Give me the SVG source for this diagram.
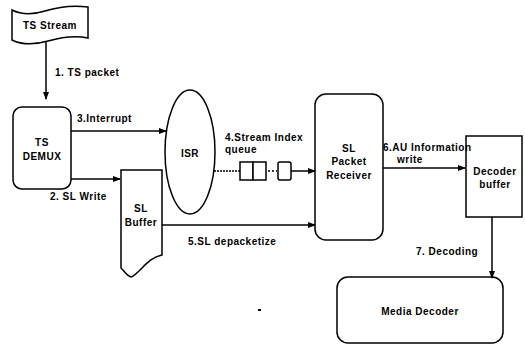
<svg xmlns="http://www.w3.org/2000/svg" width="525" height="345" viewBox="0 0 525 345">
<style>
.s{fill:none;stroke:#000;stroke-width:1.5}
.n{fill:#fff;stroke:#000;stroke-width:1.5}
.t{font-family:"Liberation Sans",Arial,sans-serif;font-size:10px;font-weight:bold;letter-spacing:0.5px;fill:#000}
.c{text-anchor:middle}
</style>
<defs>
<marker id="ah" viewBox="0 0 8 8" refX="7" refY="4" markerWidth="8" markerHeight="8" markerUnits="userSpaceOnUse" orient="auto">
<path d="M0,1 L8,4 L0,7 Z" fill="#000"/>
</marker>
</defs>
<rect width="525" height="345" fill="#fff"/>
<g id="ts-stream">
<path class="n" d="M12,10 C22,15 32,15 45,11 C58,7 72,5 88,7 L88,38 C74,35 62,37 48,41 C34,45 22,45 12,40 Z"/>
<text class="t c" x="50" y="29">TS Stream</text>
</g>
<g id="ts-demux">
<rect class="n" x="13" y="107" width="58" height="82" rx="9"/>
<text class="t c" x="42" y="146">TS</text>
<text class="t c" x="42" y="160">DEMUX</text>
</g>
<g id="isr">
<ellipse class="n" cx="190" cy="152" rx="25" ry="62"/>
<text class="t c" x="190" y="157">ISR</text>
</g>
<g id="queue">
<rect class="n" x="240" y="162" width="13" height="18"/>
<rect class="n" x="253" y="162" width="13" height="18"/>
<rect class="n" x="278" y="162" width="13" height="18" rx="2"/>
</g>
<g id="sl-buffer">
<path class="n" d="M121,170 L162,170 L162,255 C152,257 146,264 140,270 C136,274 133,277 131,277 C127,276 124,271 121,268 Z"/>
<text class="t c" x="141" y="212">SL</text>
<text class="t c" x="141" y="226">Buffer</text>
</g>
<g id="sl-packet-receiver">
<rect class="n" x="315" y="94" width="68" height="146" rx="11"/>
<text class="t c" x="349" y="152">SL</text>
<text class="t c" x="349" y="165">Packet</text>
<text class="t c" x="349" y="179">Receiver</text>
</g>
<g id="decoder-buffer">
<rect class="n" x="466" y="136" width="56" height="81"/>
<text class="t c" x="495" y="175">Decoder</text>
<text class="t c" x="495" y="188">buffer</text>
</g>
<g id="media-decoder">
<rect class="n" x="337" y="277" width="166" height="66" rx="11"/>
<text class="t c" x="420" y="315">Media Decoder</text>
</g>
<g id="connectors">
<line class="s" x1="46" y1="42" x2="46" y2="99" marker-end="url(#ah)"/>
<line class="s" x1="71" y1="131" x2="166" y2="131" marker-end="url(#ah)"/>
<line class="s" x1="71" y1="179" x2="120" y2="179" marker-end="url(#ah)"/>
<line class="s" x1="214" y1="171" x2="240" y2="171" stroke-dasharray="2,1"/>
<line class="s" x1="268" y1="171" x2="277" y2="171" stroke-dasharray="2,2"/>
<line class="s" x1="291" y1="171" x2="315" y2="171" marker-end="url(#ah)"/>
<line class="s" x1="162" y1="225" x2="315" y2="225" marker-end="url(#ah)"/>
<line class="s" x1="383" y1="168" x2="465" y2="168" marker-end="url(#ah)"/>
<line class="s" x1="492" y1="217" x2="492" y2="278" marker-end="url(#ah)"/>
<text class="t" x="55" y="76">1. TS packet</text>
<text class="t" x="77" y="122">3.Interrupt</text>
<text class="t" x="50" y="200">2. SL Write</text>
<text class="t" x="225" y="141">4.Stream Index</text>
<text class="t" x="225" y="153">queue</text>
<text class="t" x="188" y="245">5.SL depacketize</text>
<text class="t" x="383" y="151">6.AU Information</text>
<text class="t" x="397" y="163">write</text>
<text class="t" x="416" y="255">7. Decoding</text>
</g>
<rect x="258" y="309" width="3" height="2" fill="#000"/>
</svg>
